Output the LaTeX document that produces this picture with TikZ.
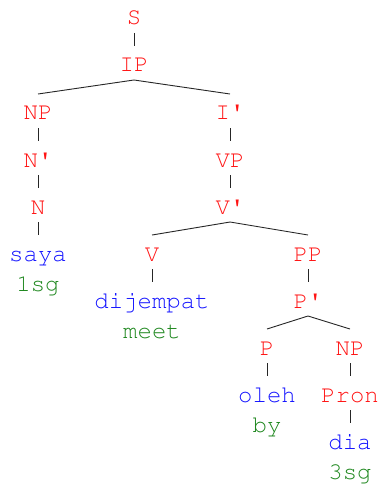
\documentclass[tikz,border=0pt]{standalone}
\usepackage[T1]{fontenc}
\usepackage{courier}
\usepackage{tikz}

\begin{document}
\begin{tikzpicture}[x=1pt, y=-1pt,
	every node/.style={font=\ttfamily\fontsize{24}{28}\selectfont,
		anchor=base, text height=21pt, text depth=3pt,
		inner xsep=2pt, inner ysep=5pt, outer sep=0pt},
	cat/.style={text=mred},
	word/.style={text=mblue},
	gloss/.style={text=mgreen},
	branch/.style={draw=black!85, line width=0.9pt}]
		\definecolor{mred}{RGB}{255,20,20}
		\definecolor{mblue}{RGB}{20,20,255}
		\definecolor{mgreen}{RGB}{30,135,30}

		\useasboundingbox (0,0) rectangle (381,484);

		% Top of the tree
		\node[cat] (s) at (134,25) {S};
		\node[cat] (ip) at (134,72) {IP};

		% Subject
		\node[cat] (np1) at (38,120) {NP};
		\node[cat] (nbar) at (38,167) {N\textquotesingle};
		\node[cat] (n) at (38,214) {N};
		\node[word] (saya) at (38,261) {saya};
		\node[gloss] (saya-gl) at (38,291) {1sg};

		% Predicate
		\node[cat] (ibar) at (230,120) {I\textquotesingle};
		\node[cat] (vp) at (230,167) {VP};
		\node[cat] (vbar) at (230,214) {V\textquotesingle};
		\node[cat] (v) at (152,261) {V};
		\node[word] (dijempat) at (152,308) {dijempat};
		\node[gloss] (dijempat-gl) at (152,338) {meet};

		% Prepositional phrase
		\node[cat] (pp) at (308,261) {PP};
		\node[cat] (pbar) at (308,308) {P\textquotesingle};
		\node[cat] (p) at (267,355) {P};
		\node[word] (oleh) at (267,402) {oleh};
		\node[gloss] (oleh-gl) at (267,432) {by};
		\node[cat] (np2) at (350,355) {NP};
		\node[cat] (pron) at (350,402) {Pron};
		\node[word] (dia) at (350,449) {dia};
		\node[gloss] (dia-gl) at (350,479) {3sg};

		% Edges
		\draw[branch] (s.south) -- (ip.north);
		\draw[branch] (np1.north) -- (ip.south) -- (ibar.north);
		\draw[branch] (np1.south) -- (nbar.north);
		\draw[branch] (nbar.south) -- (n.north);
		\draw[branch] (n.south) -- (saya.north);
		\draw[branch] (ibar.south) -- (vp.north);
		\draw[branch] (vp.south) -- (vbar.north);
		\draw[branch] (v.north) -- (vbar.south) -- (pp.north);
		\draw[branch] (v.south) -- (dijempat.north);
		\draw[branch] (pp.south) -- (pbar.north);
		\draw[branch] (p.north) -- (pbar.south) -- (np2.north);
		\draw[branch] (p.south) -- (oleh.north);
		\draw[branch] (np2.south) -- (pron.north);
		\draw[branch] (pron.south) -- (dia.north);
	\end{tikzpicture}
\end{document}
